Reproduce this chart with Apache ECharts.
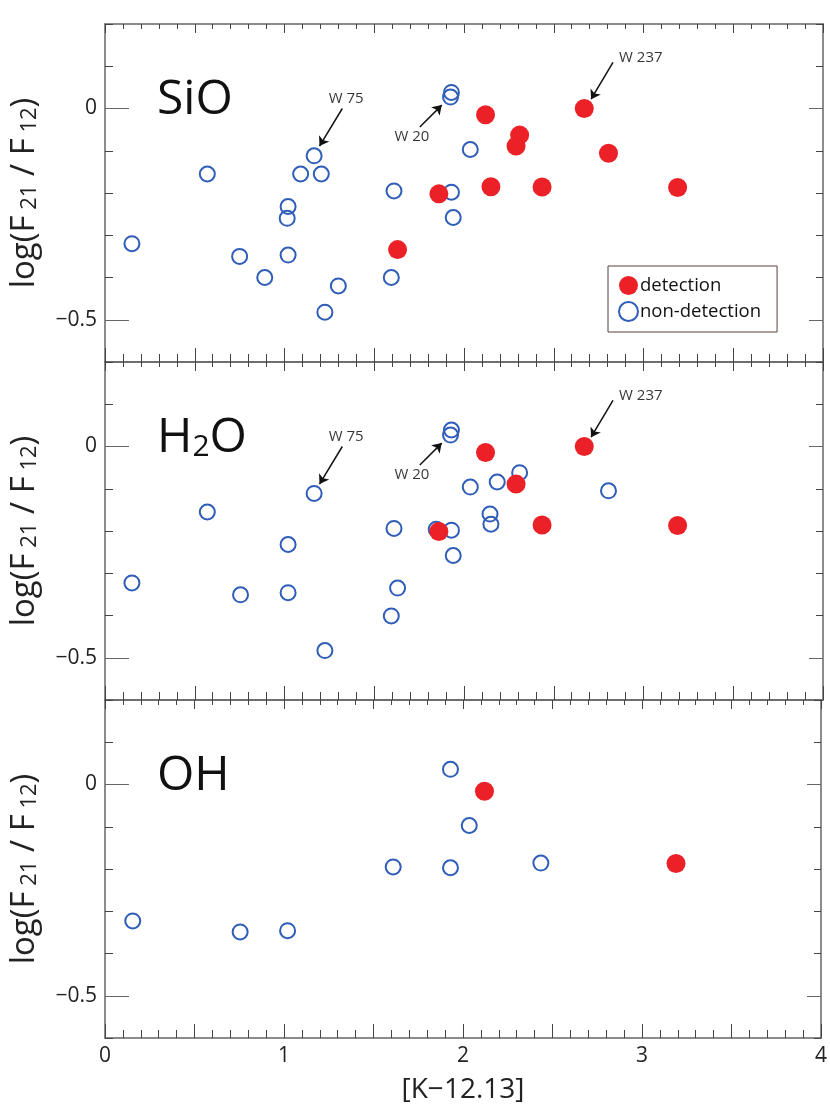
<!DOCTYPE html>
<html>
  <head>
    <meta http-equiv="content-type" content="text/html; charset=UTF-8">
    <title>log(F21/F12) vs [K-12.13]</title>
    <script src="https://cdn.jsdelivr.net/npm/echarts@6/dist/echarts.min.js"></script>
    <style type="text/css">
      html, body { margin: 0; padding: 0; background: #fff; }
      #main { width: 830px; height: 1107px; }
    </style>
  </head>
  <body>
    <div id="main"></div>
    <script>
    // panel names
    var panels = ['SiO', 'H2O', 'OH'];

    // [K-12.13], log(F21/F12)
    var sioNon = [[0.15,-0.32],[0.57,-0.155],[0.75,-0.35],[0.89,-0.40],[1.02,-0.232],[1.015,-0.26],[1.02,-0.347],
                  [1.09,-0.155],[1.165,-0.112],[1.205,-0.155],[1.225,-0.482],[1.30,-0.42],[1.61,-0.195],[1.595,-0.40],
                  [1.93,0.038],[1.925,0.027],[2.035,-0.097],[1.93,-0.198],[1.94,-0.258]];
    var sioDet = [[1.63,-0.334],[1.86,-0.202],[2.12,-0.015],[2.31,-0.063],[2.29,-0.089],[2.15,-0.185],
                  [2.435,-0.186],[2.67,0.0],[2.805,-0.106],[3.19,-0.187]];

    var h2oNon = [[0.15,-0.323],[0.57,-0.155],[0.755,-0.351],[1.02,-0.232],[1.02,-0.346],[1.165,-0.111],[1.225,-0.483],
                  [1.61,-0.194],[1.63,-0.335],[1.595,-0.401],[1.93,0.039],[1.925,0.027],[2.035,-0.096],[2.185,-0.084],
                  [2.31,-0.062],[2.145,-0.160],[2.15,-0.184],[2.805,-0.105],[1.93,-0.198],[1.845,-0.196],[1.94,-0.258]];
    var h2oDet = [[1.86,-0.201],[2.12,-0.014],[2.29,-0.089],[2.435,-0.186],[2.67,0.0],[3.19,-0.187]];

    var ohNon = [[0.155,-0.323],[0.755,-0.349],[1.02,-0.346],[1.61,-0.195],[1.93,0.036],[2.035,-0.097],
                 [1.93,-0.197],[2.435,-0.186]];
    var ohDet = [[2.12,-0.016],[3.19,-0.187]];

    var nonData = [sioNon, h2oNon, ohNon];
    var detData = [sioDet, h2oDet, ohDet];

    // star labels and arrows (SiO and H2O panels)
    var noteNames = ['W 75', 'W 20', 'W 237'];
    var notePos = [[1.344,0.022],[1.71,-0.068],[2.985,0.121]];
    var arrowFrom = [[1.322,0.0],[1.754,-0.044],[2.830,0.109]];
    var arrowTo = [[1.195,-0.089],[1.876,0.008],[2.708,0.022]];

    var xLabels = [0, 1, 2, 3, 4];
    var yLabels = [0, -0.5];

    var FONT = '"Open Sans", "Noto Sans", sans-serif';
    var RED = '#ec2128';
    var BLUE = '#2f5db8';
    var FRAME = '#666';
    var TICK = '#444';

    var gridTop = [24, 362, 700];
    var gridH = 338;

    var myChart = echarts.init(document.getElementById('main'));

    var grids = [], xAxes = [], yAxes = [], series = [], graphics = [];

    for (var g = 0; g < 3; g++) {
      grids.push({ left: 101, top: gridTop[g], width: 722, height: gridH });

      // bottom and top x axes
      xAxes.push({
        gridIndex: g, type: 'value', position: 'bottom', min: 0, max: 4, interval: 0.5,
        axisLine: { show: true, onZero: false, lineStyle: { color: FRAME, width: 1.5 } },
        axisTick: { inside: true, length: 14, lineStyle: { color: TICK } },
        minorTick: { show: true, splitNumber: 5, length: 8, lineStyle: { color: TICK } },
        splitLine: { show: false },
        axisLabel: {
          show: g === 2, fontSize: 21, margin: 8, color: '#222', fontFamily: FONT,
          formatter: function (v) { return xLabels.indexOf(v) >= 0 ? String(v) : ''; }
        },
        name: g === 2 ? '[K\u221212.13]' : '',
        nameLocation: 'middle', nameGap: 38,
        nameTextStyle: { fontSize: 28, color: '#222', fontFamily: FONT }
      });
      xAxes.push({
        gridIndex: g, type: 'value', position: 'top', min: 0, max: 4, interval: 0.5,
        axisLine: { show: true, onZero: false, lineStyle: { color: FRAME, width: 1.5 } },
        axisTick: { inside: true, length: 9, lineStyle: { color: TICK } },
        minorTick: { show: true, splitNumber: 5, length: 5, lineStyle: { color: TICK } },
        splitLine: { show: false },
        axisLabel: { show: false }
      });

      // left: short ticks every 0.1, long ticks + labels at 0 and -0.5
      yAxes.push({
        gridIndex: g, type: 'value', position: 'left', min: -0.6, max: 0.2, interval: 0.1,
        axisLine: { show: true, onZero: false, lineStyle: { color: FRAME, width: 1.5 } },
        axisTick: { inside: true, length: 8, lineStyle: { color: TICK } },
        splitLine: { show: false }, axisLabel: { show: false }
      });
      yAxes.push({
        gridIndex: g, type: 'value', position: 'left', min: -0.6, max: 0.2,
        axisLine: { show: false, onZero: false },
        axisTick: { inside: true, length: 24, customValues: yLabels, lineStyle: { color: FRAME } },
        splitLine: { show: false },
        axisLabel: {
          customValues: yLabels, fontSize: 21, margin: 8, color: '#222', fontFamily: FONT,
          formatter: function (v) { return v === 0 ? '0' : '\u22120.5'; }
        },
        name: '{a|log(F}{b| 21}{a| / F}{b| 12}{a|)}',
        nameLocation: 'middle', nameRotate: 90, nameGap: 64,
        nameTextStyle: {
          color: '#222', fontFamily: FONT,
          rich: {
            a: { fontSize: 33, fontFamily: FONT, color: '#222', verticalAlign: 'bottom', lineHeight: 33 },
            b: { fontSize: 22, fontFamily: FONT, color: '#222', verticalAlign: 'bottom', lineHeight: 22 }
          }
        }
      });
      // right side ticks
      yAxes.push({
        gridIndex: g, type: 'value', position: 'right', min: -0.6, max: 0.2, interval: 0.1,
        axisLine: { show: true, onZero: false, lineStyle: { color: FRAME, width: 1.5 } },
        axisTick: { inside: true, length: 7, lineStyle: { color: TICK } },
        splitLine: { show: false }, axisLabel: { show: false }
      });
      yAxes.push({
        gridIndex: g, type: 'value', position: 'right', min: -0.6, max: 0.2,
        axisLine: { show: false, onZero: false },
        axisTick: { inside: true, length: 14, customValues: yLabels, lineStyle: { color: FRAME } },
        splitLine: { show: false }, axisLabel: { show: false }
      });

      series.push({
        name: 'non-detection', type: 'scatter', xAxisIndex: 2 * g, yAxisIndex: 4 * g,
        data: nonData[g], symbol: 'circle', symbolSize: 15, z: 2,
        itemStyle: { color: 'rgba(255,255,255,0)', borderColor: BLUE, borderWidth: 2, opacity: 1 },
        emphasis: { disabled: true }
      });
      series.push({
        name: 'detection', type: 'scatter', xAxisIndex: 2 * g, yAxisIndex: 4 * g,
        data: detData[g], symbol: 'circle', symbolSize: 19, z: 3,
        itemStyle: { color: RED, opacity: 1 },
        emphasis: { disabled: true }
      });

      if (g < 2) {
        series.push({
          name: 'notes', type: 'scatter', xAxisIndex: 2 * g, yAxisIndex: 4 * g,
          symbolSize: 0, silent: true, z: 4,
          itemStyle: { color: '#000' },
          data: noteNames.map(function (n, i) { return { name: n, value: notePos[i] }; }),
          label: { show: true, position: 'inside', formatter: '{b}', fontSize: 15, color: '#000',
                   fontFamily: FONT, textBorderWidth: 0 },
          markLine: {
            silent: true, animation: false,
            symbol: ['none', 'arrow'], symbolSize: 9,
            lineStyle: { color: '#111', width: 1.5, type: 'solid' },
            label: { show: false },
            data: arrowFrom.map(function (p, i) { return [{ coord: p }, { coord: arrowTo[i] }]; })
          }
        });
      }
    }

    // molecule names in each panel
    graphics.push({ type: 'text', left: 157, top: 76, style: { text: 'SiO', font: '48px ' + FONT, fill: '#111' } });
    graphics.push({ type: 'text', left: 157, top: 414, style: {
      text: '{a|H}{b|2}{a|O}', fill: '#111',
      rich: { a: { fontSize: 48, fontFamily: FONT, verticalAlign: 'bottom', lineHeight: 48, color: '#111' },
              b: { fontSize: 30, fontFamily: FONT, verticalAlign: 'bottom', lineHeight: 30, color: '#111' } } } });
    graphics.push({ type: 'text', left: 157, top: 752, style: { text: 'OH', font: '48px ' + FONT, fill: '#111' } });

    var option = {
      backgroundColor: '#fff',
      animation: false,
      textStyle: { fontFamily: FONT },
      grid: grids,
      xAxis: xAxes,
      yAxis: yAxes,
      legend: {
        left: 608, top: 266, orient: 'vertical',
        data: ['detection', 'non-detection'],
        padding: [10, 16, 10, 10], itemGap: 6, itemWidth: 19, itemHeight: 19,
        borderColor: '#5a4038', borderWidth: 1, borderRadius: 0, backgroundColor: '#fff',
        textStyle: { fontSize: 18.5, color: '#111', fontFamily: FONT, padding: [0, 0, 0, -3] },
        selectedMode: false
      },
      graphic: graphics,
      series: series
    };
    myChart.setOption(option);
    </script>
  </body>
</html>
